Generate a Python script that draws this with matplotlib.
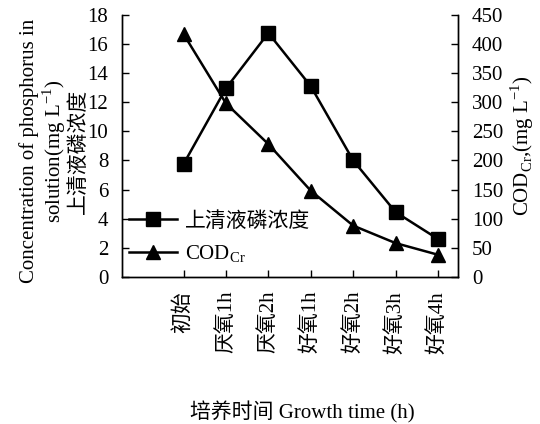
import matplotlib
matplotlib.use("Agg")
from matplotlib import pyplot as plt

plt.rcParams['font.family'] = ['Liberation Serif', 'Noto Sans CJK SC']
plt.rcParams['mathtext.fontset'] = 'custom'
plt.rcParams['mathtext.rm'] = 'Liberation Serif'

# data
stages = ['初始', '厌氧1h', '厌氧2h', '好氧1h', '好氧2h', '好氧3h', '好氧4h']
phosphorus = [7.75, 12.95, 16.75, 13.1, 8.0, 4.45, 2.6]
cod = [417, 298, 228, 148, 88, 58, 38]

fig = plt.figure(figsize=(5.4, 4.24), dpi=100)
ax = fig.add_axes([0.226, 0.347, 0.622, 0.618])
ax2 = ax.twinx()

x = list(range(len(stages)))
l1, = ax.plot(x, phosphorus, color='black', lw=1.8, marker='s', ms=10,
              label='上清液磷浓度')
l2, = ax2.plot(x, cod, color='black', lw=1.8, marker='^', ms=10,
               label='COD$_{\\mathrm{Cr}}$')

ax.set_xlim(-1.45, 6.47)
ax.set_ylim(0, 18)
ax.set_yticks(range(0, 19, 2))
ax2.set_ylim(0, 450)
ax2.set_yticks(range(0, 451, 50))
ax.set_xticks(x)
ax.set_xticklabels(stages, rotation=90)

for a in (ax, ax2):
    a.spines['top'].set_visible(False)
    for s in a.spines.values():
        s.set_linewidth(1.0)
    a.tick_params(direction='in', length=5, width=1, labelsize=15)
ax.tick_params(axis='y', pad=10)
ax2.tick_params(axis='y', pad=10)
ax.tick_params(axis='x', pad=10)

ax.set_ylabel('Concentration of phosphorus in\nsolution(mg L$^{-1}$)\n上清液磷浓度',
              fontsize=15, linespacing=1.05)
ax.yaxis.set_label_coords(-0.10, 0.48)
ax2.set_ylabel('COD$_{\\mathrm{Cr}}$,(mg L$^{-1}$)', fontsize=15)
ax2.yaxis.set_label_coords(1.15, 0.5)
fig.text(0.56, 0.013, '培养时间 Growth time (h)', ha='center', fontsize=15)

ax.legend([l1, l2], [l1.get_label(), l2.get_label()], loc='lower left',
          bbox_to_anchor=(-0.035, -0.025), frameon=False, fontsize=15,
          handlelength=2.3, handletextpad=0.4, labelspacing=0.55)

fig.savefig('out.png', dpi=100)
